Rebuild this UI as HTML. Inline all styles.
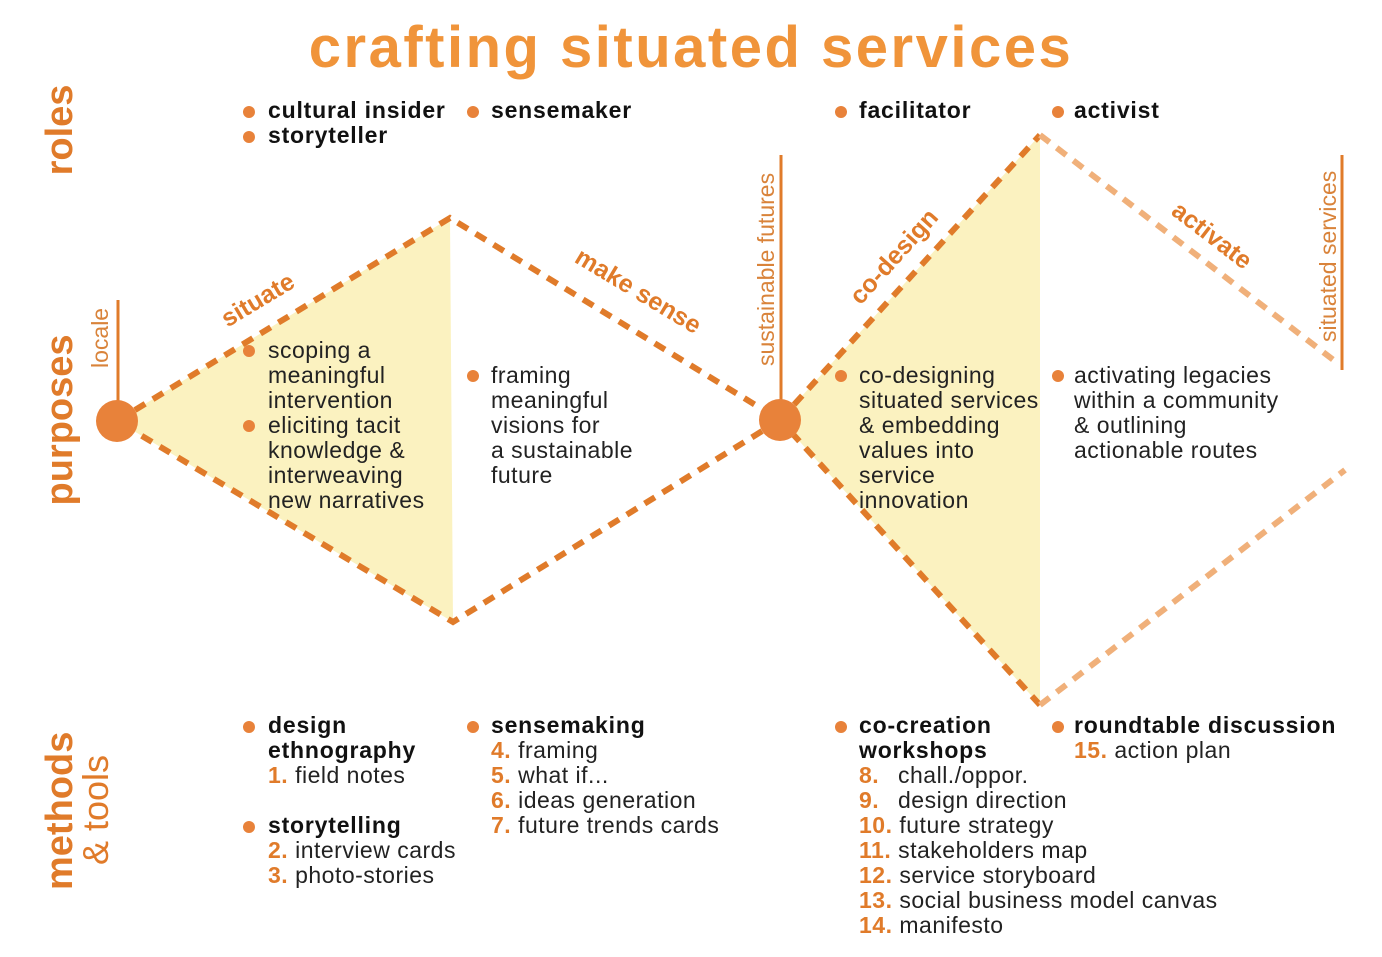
<!DOCTYPE html>
<html><head><meta charset="utf-8"><style>
html,body{margin:0;padding:0;background:#fff;}
svg{display:block;font-family:"Liberation Sans",sans-serif;}
.t{font-size:23px;fill:#222;letter-spacing:0.5px}
.b{font-size:23px;font-weight:bold;fill:#111;letter-spacing:0.8px}
.o{fill:#e07b2a;font-weight:bold}
.lbl{font-size:25px;font-weight:bold;fill:#e07b2a}
.vl{font-size:23px;fill:#d9833a}
</style></head><body>
<svg width="1382" height="957" viewBox="0 0 1382 957">
<rect width="1382" height="957" fill="#fff"/>
<text x="691" y="67" text-anchor="middle" font-size="58" font-weight="bold" fill="#f0943a" letter-spacing="2.5">crafting situated services</text>
<text transform="translate(72,130) rotate(-90)" text-anchor="middle" font-size="38" font-weight="bold" fill="#e07b2a">roles</text>
<text transform="translate(72,420) rotate(-90)" text-anchor="middle" font-size="38" font-weight="bold" fill="#e07b2a">purposes</text>
<text transform="translate(72,890) rotate(-90)" font-size="38" font-weight="bold" fill="#e07b2a">methods</text>
<text transform="translate(108,865) rotate(-90)" font-size="36" fill="#e07b2a">&amp; tools</text>
<polygon points="117,421 450,218 453,622" fill="#fbf2c0"/>
<polygon points="780,420 1040,135 1040,705" fill="#fbf2c0"/>
<line x1="118" y1="300" x2="118" y2="405" stroke="#e07b2a" stroke-width="3"/>
<line x1="781" y1="155" x2="781" y2="405" stroke="#e07b2a" stroke-width="3"/>
<line x1="1342" y1="155" x2="1342" y2="370" stroke="#e07b2a" stroke-width="3"/>
<text class="vl" transform="translate(108,368) rotate(-90)">locale</text>
<text class="vl" transform="translate(774,366) rotate(-90)">sustainable futures</text>
<text class="vl" transform="translate(1336,342) rotate(-90)">situated services</text>
<g fill="none" stroke="#e07b2a" stroke-width="6" stroke-dasharray="12,9">
<polyline points="117,421 450,218 780,420 453,622 117,421"/>
<polyline points="780,420 1040,135"/>
<polyline points="1040,705 780,420"/>
</g>
<g fill="none" stroke="#f0b07a" stroke-width="6" stroke-dasharray="12,9">
<polyline points="1040,135 1340,365"/>
<polyline points="1040,705 1345,470"/>
</g>
<circle cx="117" cy="421" r="21" fill="#e8823a"/>
<circle cx="780" cy="420" r="21" fill="#e8823a"/>
<text class="lbl" transform="translate(262,307) rotate(-31)" text-anchor="middle">situate</text>
<text class="lbl" transform="translate(634,298) rotate(31)" text-anchor="middle">make sense</text>
<text class="lbl" transform="translate(900,262) rotate(-48)" text-anchor="middle">co-design</text>
<text class="lbl" transform="translate(1207,242) rotate(37.5)" text-anchor="middle">activate</text>
<g fill="#e8823a">
<circle cx="249" cy="112" r="6"/><circle cx="249" cy="137" r="6"/><circle cx="473" cy="112" r="6"/>
<circle cx="841" cy="112" r="6"/><circle cx="1058" cy="112" r="6"/>
<circle cx="249" cy="351" r="6"/><circle cx="249" cy="426" r="6"/><circle cx="473" cy="376" r="6"/>
<circle cx="841" cy="376" r="6"/><circle cx="1058" cy="376" r="6"/>
<circle cx="249" cy="727" r="6"/><circle cx="249" cy="827" r="6"/><circle cx="473" cy="727" r="6"/>
<circle cx="841" cy="727" r="6"/><circle cx="1058" cy="727" r="6"/>
</g>
<text class="b" x="268" y="118">cultural insider</text>
<text class="b" x="268" y="143">storyteller</text>
<text class="b" x="491" y="118">sensemaker</text>
<text class="b" x="859" y="118">facilitator</text>
<text class="b" x="1074" y="118">activist</text>
<text class="t" x="268" y="358">scoping a</text>
<text class="t" x="268" y="383">meaningful</text>
<text class="t" x="268" y="408">intervention</text>
<text class="t" x="268" y="433">eliciting tacit</text>
<text class="t" x="268" y="458">knowledge &amp;</text>
<text class="t" x="268" y="483">interweaving</text>
<text class="t" x="268" y="508">new narratives</text>
<text class="t" x="491" y="383">framing</text>
<text class="t" x="491" y="408">meaningful</text>
<text class="t" x="491" y="433">visions for</text>
<text class="t" x="491" y="458">a sustainable</text>
<text class="t" x="491" y="483">future</text>
<text class="t" x="859" y="383">co-designing</text>
<text class="t" x="859" y="408">situated services</text>
<text class="t" x="859" y="433">&amp; embedding</text>
<text class="t" x="859" y="458">values into</text>
<text class="t" x="859" y="483">service</text>
<text class="t" x="859" y="508">innovation</text>
<text class="t" x="1074" y="383">activating legacies</text>
<text class="t" x="1074" y="408">within a community</text>
<text class="t" x="1074" y="433">&amp; outlining</text>
<text class="t" x="1074" y="458">actionable routes</text>
<text class="b" x="268" y="733">design</text>
<text class="b" x="268" y="758">ethnography</text>
<text class="t" x="268" y="783"><tspan class="o">1.</tspan> field notes</text>
<text class="b" x="268" y="833">storytelling</text>
<text class="t" x="268" y="858"><tspan class="o">2.</tspan> interview cards</text>
<text class="t" x="268" y="883"><tspan class="o">3.</tspan> photo-stories</text>
<text class="b" x="491" y="733">sensemaking</text>
<text class="t" x="491" y="758"><tspan class="o">4.</tspan> framing</text>
<text class="t" x="491" y="783"><tspan class="o">5.</tspan> what if...</text>
<text class="t" x="491" y="808"><tspan class="o">6.</tspan> ideas generation</text>
<text class="t" x="491" y="833"><tspan class="o">7.</tspan> future trends cards</text>
<text class="b" x="859" y="733">co-creation</text>
<text class="b" x="859" y="758">workshops</text>
<text class="t" x="859" y="783"><tspan class="o">8.</tspan></text><text class="t" x="898" y="783">chall./oppor.</text>
<text class="t" x="859" y="808"><tspan class="o">9.</tspan></text><text class="t" x="898" y="808">design direction</text>
<text class="t" x="859" y="833"><tspan class="o">10.</tspan> future strategy</text>
<text class="t" x="859" y="858"><tspan class="o">11.</tspan> stakeholders map</text>
<text class="t" x="859" y="883"><tspan class="o">12.</tspan> service storyboard</text>
<text class="t" x="859" y="908"><tspan class="o">13.</tspan> social business model canvas</text>
<text class="t" x="859" y="933"><tspan class="o">14.</tspan> manifesto</text>
<text class="b" x="1074" y="733">roundtable discussion</text>
<text class="t" x="1074" y="758"><tspan class="o">15.</tspan> action plan</text>
</svg>
</body></html>
